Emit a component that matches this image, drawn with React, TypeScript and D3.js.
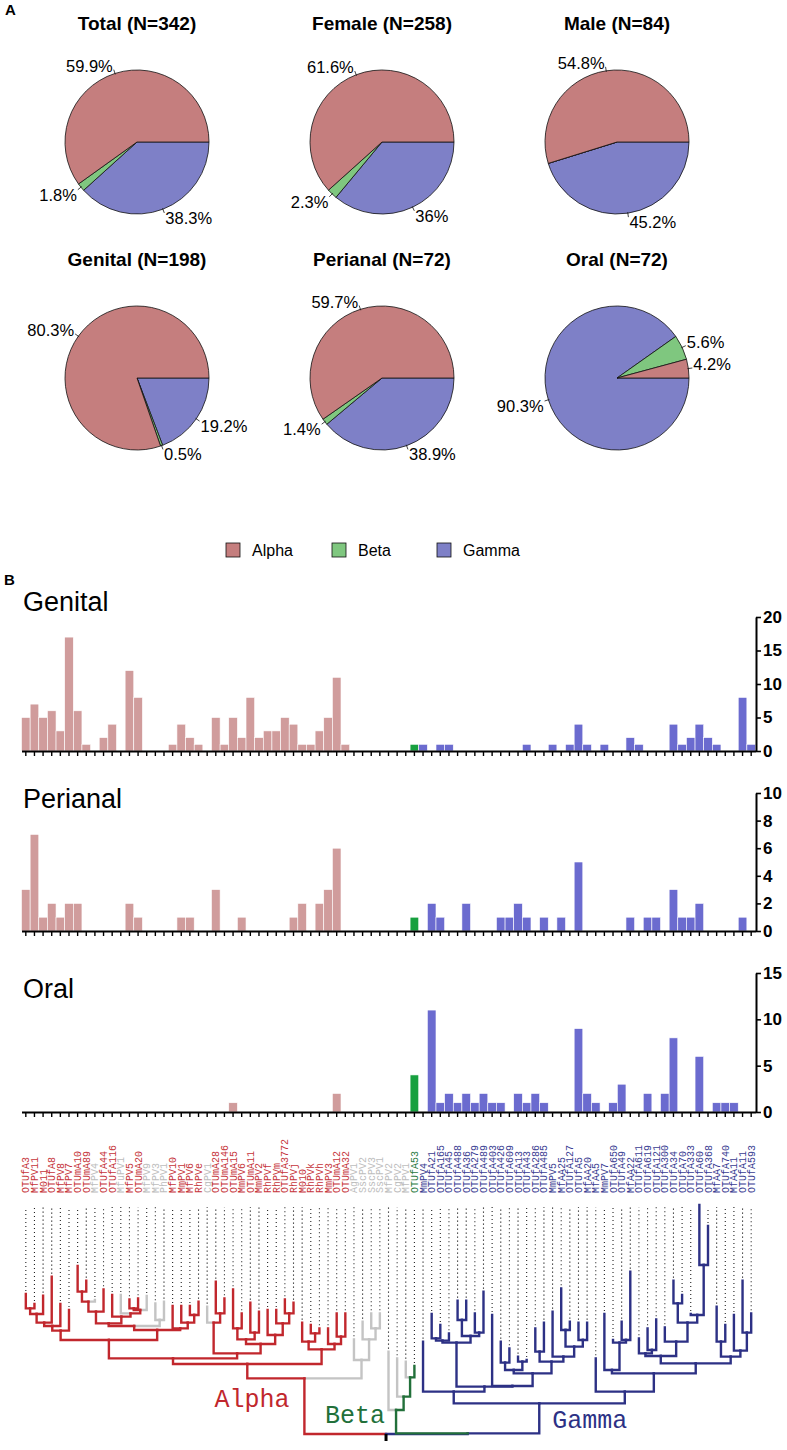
import { useEffect, useRef } from "react";
import * as d3 from "d3";

const W = 787;
const H = 1450;

// ---- panel A: pie shares (%)
const pieTitles = ["Total (N=342)", "Female (N=258)", "Male (N=84)", "Genital (N=198)", "Perianal (N=72)", "Oral (N=72)"];
const alphaPct = [59.9, 61.6, 54.8, 80.3, 59.7, 4.2];
const betaPct = [1.8, 2.3, 0, 0.5, 1.4, 5.6];
const gammaPct = [38.3, 36, 45.2, 19.2, 38.9, 90.3];
const genera = ["Alpha", "Beta", "Gamma"];

// ---- panel B: leaves (types), group code: A alpha, a/b grey, B beta, G gamma
const leafNames = [
  "OTUfA3", "MfPV11", "M011", "OTUfA8", "MfPV8", "MfPV7", "OTUmA10", "OTUmA89", "MfPV4", "OTUfA44",
  "OTUfA116", "MfuPV1", "MfPV5", "OTUmA20", "MfPV9", "MfPV3", "PhPV1", "MfPV10", "MmPV1", "MfPV6",
  "RhPVe", "CgPV1", "OTUmA28", "OTUmA146", "OTUmA15", "MmPV6", "OTUmA11", "MmPV2", "RhPVf", "RhPVm",
  "OTUfA3772", "RhPVj", "M010", "RhPVk", "RhPVh", "MmPV3", "OTUmA12", "OTUmA32", "AgPV1", "SscPV2",
  "SscPV3", "SscPV1", "MfPV2", "CgPV2", "MfPV1", "OTUfA53", "MmPV4", "OTUfA21", "OTUfA165", "OTUfA45",
  "OTUfA488", "OTUfA36", "OTUfA279", "OTUfA489", "OTUfA403", "OTUfA426", "OTUfA609", "OTUfA13", "OTUfA43", "OTUfA286",
  "OTUfA485", "MmPV5", "MfAA25", "OTUfA127", "OTUfA5", "MfAA20", "MfAA5", "MmPV7", "OTUfA650", "OTUfA49",
  "MfAA22", "OTUfA611", "OTUfA619", "OTUfA121", "OTUfA300", "OTUfA34", "OTUfA70", "OTUfA333", "OTUfA60", "OTUfA368",
  "MfAA7", "OTUfA740", "MfAA11", "OTUfA11", "OTUfA593",
];
const leafGroup = ("AAAAAAAA" + "a" + "AA" + "a" + "AA" + "aaa" + "AAAA" + "a" + "AAAAAAAAAAAAAAAA" + "aaaa" + "bbb" + "B" + "G".repeat(39)).split("");

const genital = [
  5, 7, 5, 6, 3, 17, 6, 1, 0, 2, 4, 0, 12, 8, 0, 0, 0, 1, 4, 2,
  1, 0, 5, 1, 5, 2, 8, 2, 3, 3, 5, 4, 1, 1, 3, 5, 11, 1, 0, 0,
  0, 0, 0, 0, 0, 1, 1, 0, 1, 1, 0, 0, 0, 0, 0, 0, 0, 0, 1, 0,
  0, 1, 0, 1, 4, 1, 0, 1, 0, 0, 2, 1, 0, 0, 0, 4, 1, 2, 4, 2,
  1, 0, 0, 8, 1,
];
const perianal = [
  3, 7, 1, 2, 1, 2, 2, 0, 0, 0, 0, 0, 2, 1, 0, 0, 0, 0, 1, 1,
  0, 0, 3, 0, 0, 1, 0, 0, 0, 0, 0, 1, 2, 0, 2, 3, 6, 0, 0, 0,
  0, 0, 0, 0, 0, 1, 0, 2, 1, 0, 0, 2, 0, 0, 0, 1, 1, 2, 1, 0,
  1, 0, 1, 0, 5, 0, 0, 0, 0, 0, 1, 0, 1, 1, 0, 3, 1, 1, 2, 0,
  0, 0, 0, 1, 0,
];
const oral = [
  0, 0, 0, 0, 0, 0, 0, 0, 0, 0, 0, 0, 0, 0, 0, 0, 0, 0, 0, 0,
  0, 0, 0, 0, 1, 0, 0, 0, 0, 0, 0, 0, 0, 0, 0, 0, 2, 0, 0, 0,
  0, 0, 0, 0, 0, 4, 0, 11, 1, 2, 1, 2, 1, 2, 1, 1, 0, 2, 1, 2,
  1, 0, 0, 0, 9, 2, 1, 0, 1, 3, 0, 0, 2, 0, 2, 8, 0, 0, 6, 0,
  1, 1, 1, 0, 0,
];

// tree: internal node = [height, ...children], leaf = 1-based index; heights are divergence units
const tipHeight = [
  420, 390, 415, 472, 390, 372, 504, 460, 402, 434, 417, 417, 404, 407, 414, 392, 397, 384, 384, 384,
  397, 382, 457, 407, 434, 362, 394, 367, 372, 372, 404, 394, 334, 327, 317, 317, 362, 362, 284, 337,
  362, 362, 247, 227, 217, 204, 277, 360, 327, 302, 400, 400, 362, 427, 357, 277, 257, 232, 222, 317,
  334, 367, 437, 337, 334, 334, 227, 360, 282, 337, 487, 287, 317, 344, 320, 460, 417, 360, 687, 624,
  382, 327, 357, 460, 362,
];
type TN = number | TN[];
const c1_6: TN = [310, [324, [334, [360, [377, 1, 2], 3], 4], 5], 6];
const c7_17: TN = [324, [332, [367, [397, [427, 7, 8], 9], 10], [352, 11, [362, 12, [372, [377, 13, 14], 15]]]], [342, 16, 17]];
const c18_21: TN = [317, 18, [334, 19, [357, 20, 21]]];
const c22_32: TN = [242, [334, 22, [362, 23, 24]], [270, [284, [317, 25, 26], [304, 27, 28]], [297, 29, [332, 30, [362, 31, 32]]]]];
const c33_38: TN = [254, [277, 33, [302, 34, 35]], [270, 36, [292, 37, 38]]];
const alphaClade: TN = [210, [227, [282, c1_6, [312, c7_17, c18_21]], c22_32], c33_38];
const greyClade: TN = [222, 39, [284, 40, [317, 41, 42]]];
const betaClade: TN = [72, 43, [112, 44, [170, 45, 46]]];
const g48_66: TN = [142,
  [274, [280, [287, 48, 49], 50], [294, [342, 51, 52], [304, 53, 54]]],
  [144, 55, [182, [192, [214, 56, 57], [217, 58, 59]], [217, [247, 60, 61], [232, 62, [262, [312, 63, 64], [282, 65, 66]]]]]]];
const g67_85: TN = [127, 67,
  [182, [192, 68, [274, 69, [282, 70, 71]]],
    [212, [234, [242, 72, [252, 73, 74]], [277, 75, [334, [392, 76, 77], [357, 78, [507, 79, 80]]]]],
      [232, [277, 81, 82], [250, 83, [304, 84, 85]]]]]];
const gammaClade: TN = [92, [127, 47, g48_66], g67_85];
const treeData: TN = [0, [167, alphaClade, greyClade], [2, betaClade, gammaClade]];

const pieCol: Record<string, string> = { Alpha: "#c57e7e", Beta: "#7fc77f", Gamma: "#7e80c7" };
const barCol: Record<string, string> = { A: "#d09c9c", a: "#d09c9c", b: "#d09c9c", B: "#17a03f", G: "#6b6bcf" };
const branchCol: Record<string, string> = { A: "#c1272d", g: "#c4c4c4", B: "#22703a", G: "#2d3185" };
const labelCol: Record<string, string> = { A: "#c6343a", a: "#bdbdbd", b: "#bdbdbd", B: "#2a7a3f", G: "#3a3d92" };

const sans = "'Liberation Sans', Arial, Helvetica, sans-serif";
const mono = "'Liberation Mono', 'Courier New', monospace";

const App = () => {
  const ref = useRef<SVGSVGElement>(null);

  useEffect(() => {
    const svg = d3.select(ref.current);
    svg.selectAll("*").remove();
    svg.append("rect").attr("width", W).attr("height", H).attr("fill", "#fff");

    svg.append("text").attr("x", 5).attr("y", 15).text("A")
      .style("font", `bold 15px ${sans}`);
    svg.append("text").attr("x", 4).attr("y", 585).text("B")
      .style("font", `bold 15px ${sans}`);

    // ---------- pies
    const pieCx = [137, 382, 617];
    const pieCy = [142, 378];
    const R = 72;
    const pie = d3.pie<number>().sort(null).value((d) => d)
      .startAngle(Math.PI / 2).endAngle(Math.PI / 2 + 2 * Math.PI);
    const arc: any = d3.arc().innerRadius(0).outerRadius(R);

    pieTitles.forEach((title, k) => {
      const cx = pieCx[k % 3];
      const cy = pieCy[Math.floor(k / 3)];
      svg.append("text").attr("x", cx).attr("y", cy - 112).attr("text-anchor", "middle")
        .style("font", `bold 19px ${sans}`).text(title);
      const g = svg.append("g").attr("transform", `translate(${cx},${cy})`);
      const vals = [gammaPct[k], betaPct[k], alphaPct[k]];
      const cols = [pieCol.Gamma, pieCol.Beta, pieCol.Alpha];
      const arcs = pie(vals);
      g.selectAll("path").data(arcs).join("path")
        .attr("d", arc)
        .attr("fill", (d, i) => cols[i])
        .attr("stroke", "#111")
        .attr("stroke-width", 0.8);
      arcs.forEach((a) => {
        if (a.data <= 0) return;
        const m = (a.startAngle + a.endAngle) / 2;
        const sx = Math.sin(m);
        const sy = -Math.cos(m);
        g.append("line")
          .attr("x1", sx * (R - 1)).attr("y1", sy * (R - 1))
          .attr("x2", sx * (R + 4)).attr("y2", sy * (R + 4))
          .attr("stroke", "#111").attr("stroke-width", 0.8);
        g.append("text")
          .attr("x", sx * (R + 4) + (sx < 0 ? -1 : 1))
          .attr("y", sy * (R + 4) + (sy < 0 ? 2 : 11))
          .attr("text-anchor", sx < 0 ? "end" : "start")
          .style("font", `16.5px ${sans}`)
          .text(`${a.data}%`);
      });
    });

    // legend
    const legX = [226, 332, 437];
    genera.forEach((gname, i) => {
      svg.append("rect").attr("x", legX[i]).attr("y", 543).attr("width", 14).attr("height", 14)
        .attr("fill", pieCol[gname]).attr("stroke", "#111").attr("stroke-width", 0.8);
      svg.append("text").attr("x", legX[i] + 26).attr("y", 556).style("font", `16px ${sans}`).text(gname);
    });

    // ---------- bar panels
    const x = d3.scaleBand<string>().domain(leafNames).range([21.5, 755.5]).paddingInner(0).paddingOuter(0);
    const panels = [
      { name: "Genital", values: genital, max: 20, ticks: [0, 5, 10, 15, 20], base: 751, top: 617, titleY: 611 },
      { name: "Perianal", values: perianal, max: 10, ticks: [0, 2, 4, 6, 8, 10], base: 931, top: 793, titleY: 808 },
      { name: "Oral", values: oral, max: 15, ticks: [0, 5, 10, 15], base: 1112, top: 973, titleY: 998 },
    ];
    panels.forEach((p) => {
      const y = d3.scaleLinear().domain([0, p.max]).range([p.base, p.top]);
      svg.append("text").attr("x", 23).attr("y", p.titleY).style("font", `27px ${sans}`).text(p.name);
      svg.append("g").selectAll("rect")
        .data(p.values.map((v, i) => ({ v, i })).filter((d) => d.v > 0))
        .join("rect")
        .attr("x", (d) => x(leafNames[d.i])!)
        .attr("width", x.bandwidth())
        .attr("y", (d) => y(d.v))
        .attr("height", (d) => y(0) - y(d.v))
        .attr("fill", (d) => barCol[leafGroup[d.i]])
        .attr("stroke", "#fff")
        .attr("stroke-width", 0.6);

      const xa = svg.append("g").attr("transform", `translate(0,${p.base})`)
        .call(d3.axisBottom(x).tickSize(5).tickSizeOuter(0).tickFormat(() => ""));
      xa.select(".domain").attr("stroke-width", 2);
      xa.selectAll(".tick line").attr("stroke-width", 1.4);

      const ya = svg.append("g").attr("transform", `translate(756,0)`)
        .call(d3.axisRight(y).tickValues(p.ticks).tickSize(5).tickSizeOuter(0).tickPadding(2).tickFormat(d3.format("d")));
      ya.select(".domain").attr("stroke-width", 2);
      ya.selectAll(".tick line").attr("stroke-width", 1.6);
      ya.selectAll("text").style("font", `bold 17px ${sans}`).attr("fill", "#000");
    });

    // ---------- tree
    const build = (n: TN): any =>
      typeof n === "number"
        ? { leaf: n - 1, h: tipHeight[n - 1] }
        : { h: n[0] as number, children: (n.slice(1) as TN[]).map(build) };
    const root = d3.hierarchy<any>(build(treeData));
    const yT = d3.scaleLinear().domain([0, 690]).range([1434, 1204]);

    root.eachAfter((nd: any) => {
      if (!nd.children) {
        nd.px = x(leafNames[nd.data.leaf])! + x.bandwidth() / 2;
        nd.groups = new Set([leafGroup[nd.data.leaf]]);
      } else {
        nd.px = (nd.children[0].px + nd.children[nd.children.length - 1].px) / 2;
        nd.groups = new Set<string>();
        nd.children.forEach((c: any) => c.groups.forEach((gg: string) => nd.groups.add(gg)));
      }
      nd.py = yT(nd.data.h);
      nd.col = nd.groups.has("G") ? branchCol.G
        : nd.groups.has("B") ? branchCol.B
        : nd.groups.has("A") ? branchCol.A : branchCol.g;
    });

    const order = [branchCol.g, branchCol.A, branchCol.G, branchCol.B];
    const links = root.descendants().filter((d: any) => d.parent)
      .sort((a: any, b: any) => order.indexOf(a.col) - order.indexOf(b.col));
    const tg = svg.append("g");
    tg.selectAll("path").data(links).join("path")
      .attr("d", (d: any) => `M${d.px},${d.py}V${d.parent.py}H${d.parent.px}`)
      .attr("fill", "none")
      .attr("stroke", (d: any) => d.col)
      .attr("stroke-width", 2.4)
      .attr("stroke-linecap", "square");

    const r: any = root;
    tg.append("line").attr("x1", r.px).attr("x2", r.px).attr("y1", r.py).attr("y2", r.py + 7)
      .attr("stroke", "#000").attr("stroke-width", 3);

    const leaves = root.leaves() as any[];
    svg.append("g").selectAll("line").data(leaves.filter((d) => d.py > 1209)).join("line")
      .attr("x1", (d) => d.px).attr("x2", (d) => d.px)
      .attr("y1", (d) => d.py - 3).attr("y2", 1207)
      .attr("stroke", "#222").attr("stroke-width", 1.1).attr("stroke-dasharray", "1.1 2.9");

    svg.append("g").selectAll("text").data(leaves).join("text")
      .attr("transform", (d) => `translate(${d.px},1193) rotate(-90)`)
      .attr("dy", "0.35em")
      .attr("fill", (d) => labelCol[leafGroup[d.data.leaf]])
      .style("font", `10px ${mono}`)
      .text((d) => leafNames[d.data.leaf]);

    // clade names next to their nodes
    const alphaNode: any = root.children![0];
    const bg: any = root.children![1];
    const betaNode: any = bg.children[0];
    const gammaNode: any = bg.children[1];
    svg.append("text").attr("x", alphaNode.px - 15).attr("y", alphaNode.py + 29).attr("text-anchor", "end")
      .attr("fill", branchCol.A).style("font", `25px ${mono}`).text("Alpha");
    svg.append("text").attr("x", betaNode.px - 11).attr("y", betaNode.py + 13).attr("text-anchor", "end")
      .attr("fill", branchCol.B).style("font", `25px ${mono}`).text("Beta");
    svg.append("text").attr("x", gammaNode.px + 13).attr("y", gammaNode.py + 25)
      .attr("fill", branchCol.G).style("font", `25px ${mono}`).text("Gamma");
  }, []);

  return (
    <div>
      <svg ref={ref} width={W} height={H} style={{ position: "absolute", left: 0, top: 0 }}></svg>
    </div>
  );
};

export default App;
